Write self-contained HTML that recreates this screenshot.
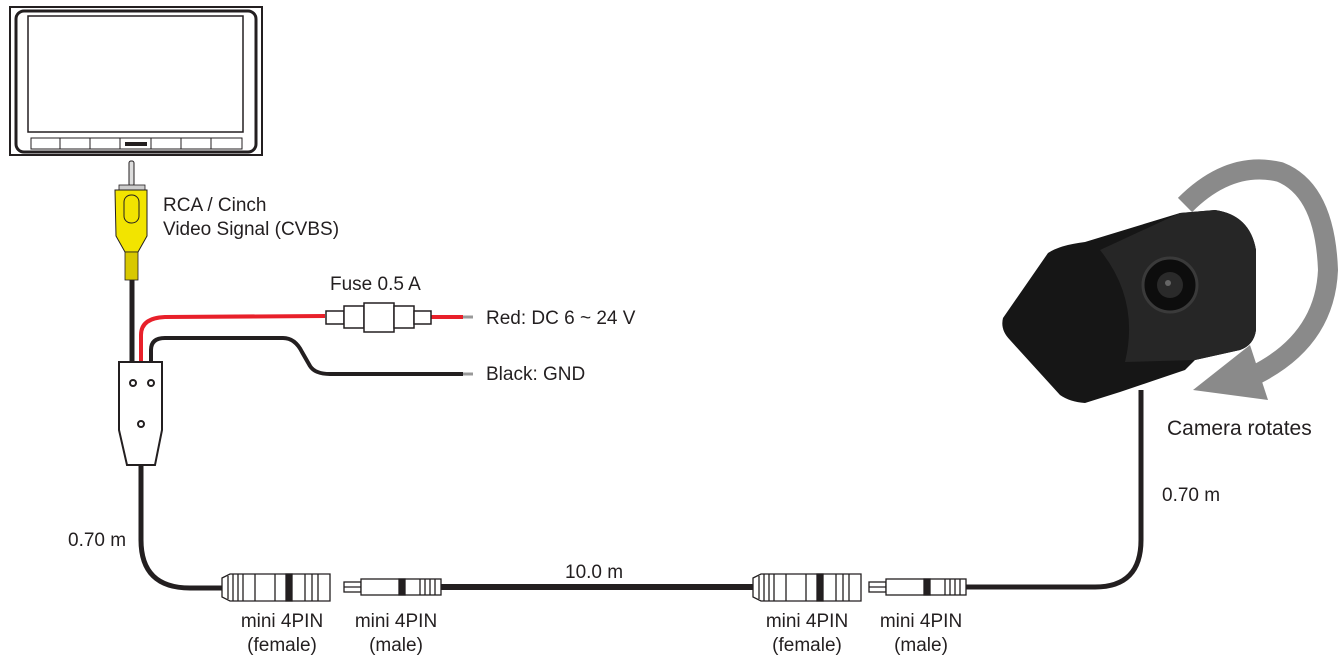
<!DOCTYPE html>
<html><head><meta charset="utf-8"><style>
body{margin:0;background:#fff}
svg{display:block}
text{font-family:"Liberation Sans",sans-serif;fill:#231f20}
</style></head><body>
<svg width="1338" height="659" viewBox="0 0 1338 659">
<g>
<rect x="10" y="7" width="252" height="148" fill="#fff" stroke="#231f20" stroke-width="2"/>
<rect x="16" y="11" width="240" height="141" rx="8" fill="#fff" stroke="#231f20" stroke-width="3"/>
<rect x="28" y="16" width="215" height="116" fill="#fff" stroke="#231f20" stroke-width="1.5"/>
<rect x="31" y="138" width="211" height="11" fill="#fff" stroke="#231f20" stroke-width="1"/>
<g stroke="#231f20" stroke-width="1"><line x1="60" y1="138" x2="60" y2="149"/><line x1="90" y1="138" x2="90" y2="149"/><line x1="120" y1="138" x2="120" y2="149"/><line x1="151" y1="138" x2="151" y2="149"/><line x1="181" y1="138" x2="181" y2="149"/><line x1="211" y1="138" x2="211" y2="149"/></g>
<rect x="125" y="142" width="22" height="4" fill="#231f20"/>
</g>
<g>
<rect x="129" y="161" width="5" height="25" rx="2" fill="#ddd" stroke="#231f20"/>
<rect x="119" y="185" width="26" height="5" fill="#ccc" stroke="#231f20" stroke-width="0.8"/>
<path d="M115 190 H147 V236 L138 252 H125 L116 236 Z" fill="#f2e400" stroke="#231f20" stroke-width="1"/>
<rect x="124" y="195" width="15" height="28" rx="7" fill="#f2e400" stroke="#231f20"/>
<rect x="125" y="252" width="13" height="28" fill="#d8c800" stroke="#231f20" stroke-width="0.8"/>
</g>
<g fill="none" stroke-linecap="butt">
<path d="M132 280 V365" stroke="#231f20" stroke-width="5"/>
<path d="M141 365 V335 Q141 318 165 317 L325 316" stroke="#e8202a" stroke-width="4"/>
<path d="M430 317 H463" stroke="#e8202a" stroke-width="4"/>
<path d="M463 317 H473" stroke="#999" stroke-width="3"/>
<path d="M151 365 V350 Q151 338 165 338 L283 338 Q295 338 302 352 L310 366 Q315 374 330 374 L463 374" stroke="#231f20" stroke-width="4"/>
<path d="M463 374 H473" stroke="#999" stroke-width="3"/>
<path d="M141 465 V540 Q141 588 190 588 L225 588" stroke="#231f20" stroke-width="5"/>
<path d="M440 587 H755" stroke="#231f20" stroke-width="6"/>
<path d="M965 587 H1095 Q1141 587 1141 540 V390" stroke="#231f20" stroke-width="5"/>
</g>
<g fill="#fff" stroke="#231f20" stroke-width="1.5">
<rect x="326" y="311" width="18" height="13"/><rect x="344" y="306" width="20" height="22"/><rect x="364" y="303" width="30" height="29"/><rect x="394" y="306" width="20" height="22"/><rect x="414" y="311" width="17" height="13"/>
</g>
<g>
<path d="M119 362 H162 V430 L155 465 H127 L119 430 Z" fill="#fff" stroke="#231f20" stroke-width="2"/>
<circle cx="133" cy="383" r="3" fill="none" stroke="#231f20" stroke-width="2"/>
<circle cx="151" cy="383" r="3" fill="none" stroke="#231f20" stroke-width="2"/>
<circle cx="141" cy="424" r="3" fill="none" stroke="#231f20" stroke-width="2"/>
</g>
<g id="female" stroke="#231f20" stroke-width="1.3" fill="#fff">
<path d="M222 578 L230 574 H330 V601 H230 L222 597 Z"/>
<line x1="228" y1="576" x2="228" y2="599"/><line x1="233" y1="574" x2="233" y2="601"/><line x1="238" y1="574" x2="238" y2="601"/><line x1="243" y1="574" x2="243" y2="601"/><line x1="255" y1="574" x2="255" y2="601"/><line x1="275" y1="574" x2="275" y2="601"/>
<rect x="286" y="574" width="6" height="27" fill="#231f20"/>
<line x1="305" y1="574" x2="305" y2="601"/><line x1="312" y1="574" x2="312" y2="601"/><line x1="318" y1="574" x2="318" y2="601"/>
</g>
<g stroke="#231f20" stroke-width="1.3" fill="#fff">
<rect x="344" y="582" width="17" height="10"/><line x1="344" y1="587" x2="361" y2="587"/>
<rect x="361" y="579" width="80" height="16"/>
<rect x="399" y="579" width="6" height="16" fill="#231f20"/>
<line x1="420" y1="579" x2="420" y2="595"/><line x1="425" y1="579" x2="425" y2="595"/><line x1="430" y1="579" x2="430" y2="595"/><line x1="435" y1="579" x2="435" y2="595"/>
</g>
<use href="#female" x="531"/>
<g stroke="#231f20" stroke-width="1.3" fill="#fff">
<rect x="869" y="582" width="17" height="10"/><line x1="869" y1="587" x2="886" y2="587"/>
<rect x="886" y="579" width="80" height="16"/>
<rect x="924" y="579" width="6" height="16" fill="#231f20"/>
<line x1="945" y1="579" x2="945" y2="595"/><line x1="950" y1="579" x2="950" y2="595"/><line x1="955" y1="579" x2="955" y2="595"/><line x1="960" y1="579" x2="960" y2="595"/>
</g>
<g>
<path d="M1185 205 Q1230 160 1280 172 Q1325 190 1328 270 Q1325 340 1255 375" fill="none" stroke="#8a8a8a" stroke-width="20"/>
<path d="M1250 345 L1268 400 L1193 390 Z" fill="#8a8a8a"/>
</g>
<g>
<path d="M1003 318 L1048 253 Q1060 245 1085 242 L1180 213 L1215 210 Q1250 215 1256 250 L1256 330 Q1254 345 1240 350 L1195 360 L1185 370 L1120 392 L1085 403 Q1070 402 1060 395 L1010 340 Q1000 330 1003 318 Z" fill="#161616"/>
<path d="M1100 250 L1180 213 L1215 210 Q1250 215 1256 250 L1256 330 Q1254 345 1240 350 L1195 360 L1125 362 Q1140 300 1100 250 Z" fill="#262626"/>
<circle cx="1170" cy="285" r="27" fill="#0d0d0d" stroke="#3a3a3a" stroke-width="3"/>
<circle cx="1170" cy="285" r="13" fill="#2a2a2a"/>
<circle cx="1168" cy="283" r="3" fill="#666"/>
</g>
<g font-size="19">
<text x="163" y="211">RCA / Cinch</text>
<text x="163" y="235">Video Signal (CVBS)</text>
<text x="330" y="290">Fuse 0.5 A</text>
<text x="486" y="324">Red: DC 6 ~ 24 V</text>
<text x="486" y="380">Black: GND</text>
<text x="68" y="546">0.70 m</text>
<text x="565" y="578">10.0 m</text>
<text x="1162" y="501">0.70 m</text>
<text x="1167" y="435" font-size="21">Camera rotates</text>
<g text-anchor="middle">
<text x="282" y="627">mini 4PIN</text><text x="282" y="651">(female)</text>
<text x="396" y="627">mini 4PIN</text><text x="396" y="651">(male)</text>
<text x="807" y="627">mini 4PIN</text><text x="807" y="651">(female)</text>
<text x="921" y="627">mini 4PIN</text><text x="921" y="651">(male)</text>
</g>
</g>
</svg>
</body></html>
